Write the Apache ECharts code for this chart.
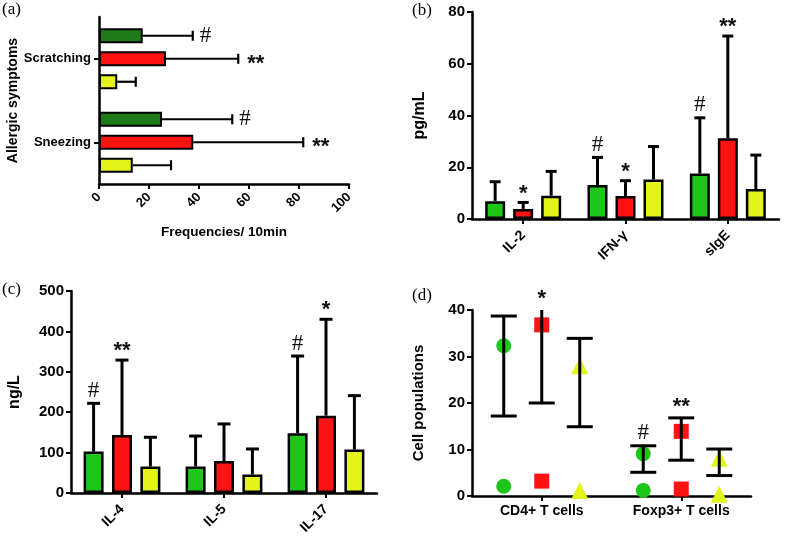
<!DOCTYPE html>
<html><head><meta charset="utf-8">
<script src="https://cdn.jsdelivr.net/npm/echarts@6/dist/echarts.min.js"></script>
<style>html,body{margin:0;padding:0;background:#fff}#c{width:787px;height:541px}</style>
</head><body><div id="c"></div>
<script>
// ---------- (a) allergic symptoms ----------
const symptomCats = ['Scratching', 'Sneezing'];
const symptomGreen = [17.5, 25.2];
const symptomGreenSD = [20.0, 28.1];
const symptomRed = [26.8, 37.7];
const symptomRedSD = [28.9, 44.0];
const symptomYellow = [7.3, 13.5];
const symptomYellowSD = [7.4, 15.3];
const symptomGreenMark = ['#', '#'];
const symptomRedMark = ['**', '**'];
const symptomYellowMark = ['', ''];
const freqTicks = [0, 20, 40, 60, 80, 100];

// ---------- (b) serum ----------
const serumCats = ['IL-2', 'IFN-γ', 'sIgE'];
const serumGreen = [6.9, 13.1, 17.6];
const serumGreenSD = [7.5, 10.7, 21.5];
const serumRed = [3.9, 8.9, 31.2];
const serumRedSD = [2.5, 5.9, 39.5];
const serumYellow = [9.0, 15.3, 11.6];
const serumYellowSD = [9.4, 12.7, 13.1];
const serumGreenMark = ['', '#', '#'];
const serumRedMark = ['*', '*', '**'];
const serumYellowMark = ['', '', ''];

// ---------- (c) cytokines ----------
const ilCats = ['IL-4', 'IL-5', 'IL-17'];
const ilGreen = [102.6, 65.7, 148.0];
const ilGreenSD = [119.4, 75.3, 191.0];
const ilRed = [143.8, 79.0, 191.5];
const ilRedSD = [185.2, 92.0, 238.5];
const ilYellow = [65.7, 46.0, 107.6];
const ilYellowSD = [72.3, 63.0, 133.4];
const ilGreenMark = ['#', '', '#'];
const ilRedMark = ['**', '', '*'];
const ilYellowMark = ['', '', ''];

// ---------- (d) cell populations ----------
const cellCats = ['CD4+ T cells', 'Foxp3+ T cells'];
const cellGreenMean = [32.3, 9.1];
const cellGreenLow = [2.1, 1.2];
const cellGreenErrLo = [17.2, 5.1];
const cellGreenErrHi = [38.7, 10.8];
const cellRedMean = [36.8, 13.9];
const cellRedLow = [3.2, 1.5];
const cellRedErrLo = [20.0, 7.7];
const cellRedErrHi = [44.0, 16.8];
const cellYellowMean = [28.0, 8.1];
const cellYellowLow = [1.2, 0.4];
const cellYellowErrLo = [14.9, 4.4];
const cellYellowErrHi = [33.9, 10.1];
const cellGreenMark = ['', '#'];
const cellRedMark = ['*', '**'];
const cellYellowMark = ['', ''];

// ---------- styles ----------
const DARKGREEN = '#1f7a1a', GREEN = '#1ec61a', RED = '#ff1212', YELLOW = '#e2f41a';
const SANS = '"Liberation Sans", Arial, sans-serif';
const SERIF = '"Liberation Serif", "Times New Roman", serif';

function isHash(t) { return t.indexOf('#') >= 0; }
function markFont(t) { return isHash(t) ? ('23px ' + SERIF) : ('bold 22px ' + SANS); }

function vErr(offset, cap, lw, marks) {
  return function (params, api) {
    const cat = api.value(0), mean = api.value(1), sd = api.value(2);
    const mark = marks[params.dataIndex];
    const p0 = api.coord([cat, mean]);
    const p1 = api.coord([cat, mean + sd]);
    const x = p0[0] + offset;
    const ch = [
      { type: 'line', shape: { x1: x, y1: p0[1], x2: x, y2: p1[1] }, style: { stroke: '#000', lineWidth: lw } },
      { type: 'line', shape: { x1: x - cap / 2, y1: p1[1], x2: x + cap / 2, y2: p1[1] }, style: { stroke: '#000', lineWidth: lw } }
    ];
    if (mark) ch.push({ type: 'text', style: { text: mark, x: x, y: p1[1] + (isHash(mark) ? -1 : 2), align: 'center', verticalAlign: 'bottom', font: markFont(mark), fill: '#111' } });
    return { type: 'group', children: ch };
  };
}
function hErr(offset, cap, lw, marks) {
  return function (params, api) {
    const cat = api.value(0), mean = api.value(1), sd = api.value(2);
    const mark = marks[params.dataIndex];
    const p0 = api.coord([mean, cat]);
    const p1 = api.coord([mean + sd, cat]);
    const y = p0[1] + offset;
    const ch = [
      { type: 'line', shape: { x1: p0[0], y1: y, x2: p1[0], y2: y }, style: { stroke: '#000', lineWidth: lw } },
      { type: 'line', shape: { x1: p1[0], y1: y - cap / 2, x2: p1[0], y2: y + cap / 2 }, style: { stroke: '#000', lineWidth: lw } }
    ];
    if (mark) ch.push({ type: 'text', style: { text: mark, x: p1[0] + (isHash(mark) ? 7 : 9), y: y + (isHash(mark) ? 0 : 5), align: 'left', verticalAlign: 'middle', font: markFont(mark), fill: '#111' } });
    return { type: 'group', children: ch };
  };
}
function rangeErr(offset, cap, lw, marks) {
  return function (params, api) {
    const cat = api.value(0), lo = api.value(1), hi = api.value(2);
    const mark = marks[params.dataIndex];
    const top = params.coordSys.y;
    const p0 = api.coord([cat, lo]);
    const p1 = api.coord([cat, hi]);
    const x = p0[0] + offset;
    const clipped = p1[1] < top;
    const yTop = clipped ? top : p1[1];
    const ch = [
      { type: 'line', shape: { x1: x, y1: p0[1], x2: x, y2: yTop }, style: { stroke: '#000', lineWidth: lw } },
      { type: 'line', shape: { x1: x - cap / 2, y1: p0[1], x2: x + cap / 2, y2: p0[1] }, style: { stroke: '#000', lineWidth: lw } }
    ];
    if (!clipped) ch.push({ type: 'line', shape: { x1: x - cap / 2, y1: yTop, x2: x + cap / 2, y2: yTop }, style: { stroke: '#000', lineWidth: lw } });
    if (mark) ch.push({ type: 'text', style: { text: mark, x: x, y: yTop + (isHash(mark) ? -1 : 0), align: 'center', verticalAlign: 'bottom', font: markFont(mark), fill: '#111' } });
    return { type: 'group', children: ch };
  };
}

const zip = (m, s) => m.map((v, i) => [i, v, s[i]]);
const pts = (a, b) => a.map((v, i) => [i, v]).concat(b.map((v, i) => [i, v]));

const axisLine = { show: true, lineStyle: { color: '#000', width: 2.5 } };
const axisTick = { show: true, length: 5, lineStyle: { color: '#000', width: 2 } };
const lab = (sz, extra) => Object.assign({ color: '#000', fontFamily: SANS, fontWeight: 'bold', fontSize: sz }, extra || {});
const nameStyle = (sz) => ({ color: '#000', fontFamily: SANS, fontWeight: 'bold', fontSize: sz });

const chart = echarts.init(document.getElementById('c'), null, { renderer: 'canvas' });
chart.setOption({
  animation: false,
  backgroundColor: '#fff',
  grid: [
    { left: 99, top: 17, width: 250, height: 167 },
    { left: 472, top: 12, width: 307, height: 207 },
    { left: 71, top: 291, width: 306, height: 202 },
    { left: 472, top: 310, width: 279, height: 186 }
  ],
  xAxis: [
    { gridIndex: 0, type: 'value', min: freqTicks[0], max: freqTicks[freqTicks.length - 1], interval: 20,
      axisLine, axisTick, splitLine: { show: false },
      axisLabel: lab(13, { rotate: 45, margin: 11 }),
      name: 'Frequencies/ 10min', nameLocation: 'middle', nameGap: 41, nameTextStyle: nameStyle(13.5) },
    { gridIndex: 1, type: 'category', data: serumCats, axisLine,
      axisTick: Object.assign({ alignWithLabel: true }, axisTick), axisLabel: lab(14, { rotate: 45, margin: 14 }) },
    { gridIndex: 2, type: 'category', data: ilCats, axisLine,
      axisTick: Object.assign({ alignWithLabel: true }, axisTick), axisLabel: lab(14, { rotate: 45, margin: 14 }) },
    { gridIndex: 3, type: 'category', data: cellCats, axisLine,
      axisTick: Object.assign({ alignWithLabel: true }, axisTick), axisLabel: lab(14, { margin: 8 }) }
  ],
  yAxis: [
    { gridIndex: 0, type: 'category', data: symptomCats, inverse: true, axisLine,
      axisTick: Object.assign({ alignWithLabel: true }, axisTick), axisLabel: lab(13, { margin: 8 }),
      name: 'Allergic symptoms', nameLocation: 'middle', nameGap: 77, nameTextStyle: nameStyle(14) },
    { gridIndex: 1, type: 'value', min: 0, max: 80, interval: 20, axisLine, axisTick,
      splitLine: { show: false }, axisLabel: lab(15, { margin: 7 }),
      name: 'pg/mL', nameLocation: 'middle', nameGap: 44, nameTextStyle: nameStyle(16) },
    { gridIndex: 2, type: 'value', min: 0, max: 500, interval: 100, axisLine, axisTick,
      splitLine: { show: false }, axisLabel: lab(15, { margin: 7 }),
      name: 'ng/L', nameLocation: 'middle', nameGap: 48, nameTextStyle: nameStyle(16) },
    { gridIndex: 3, type: 'value', min: 0, max: 40, interval: 10, axisLine, axisTick,
      splitLine: { show: false }, axisLabel: lab(15, { margin: 7 }),
      name: 'Cell populations', nameLocation: 'middle', nameGap: 46, nameTextStyle: nameStyle(15) }
  ],
  graphic: [
    { type: 'text', left: 2, top: 1, style: { text: '(a)', font: '17px ' + SERIF, fill: '#000' } },
    { type: 'text', left: 412, top: 2, style: { text: '(b)', font: '17px ' + SERIF, fill: '#000' } },
    { type: 'text', left: 2, top: 281, style: { text: '(c)', font: '17px ' + SERIF, fill: '#000' } },
    { type: 'text', left: 412, top: 287, style: { text: '(d)', font: '17px ' + SERIF, fill: '#000' } }
  ],
  series: [
    // (a)
    { type: 'bar', xAxisIndex: 0, yAxisIndex: 0, data: symptomGreen, barWidth: 15, barGap: '53%',
      itemStyle: { color: DARKGREEN, borderColor: '#000', borderWidth: 2 } },
    { type: 'bar', xAxisIndex: 0, yAxisIndex: 0, data: symptomRed, barWidth: 15, barGap: '53%',
      itemStyle: { color: RED, borderColor: '#000', borderWidth: 2 } },
    { type: 'bar', xAxisIndex: 0, yAxisIndex: 0, data: symptomYellow, barWidth: 15, barGap: '53%',
      itemStyle: { color: YELLOW, borderColor: '#000', borderWidth: 2 } },
    { type: 'custom', xAxisIndex: 0, yAxisIndex: 0, renderItem: hErr(-23, 10, 2.2, symptomGreenMark), data: zip(symptomGreen, symptomGreenSD), z: 5, clip: false },
    { type: 'custom', xAxisIndex: 0, yAxisIndex: 0, renderItem: hErr(0, 10, 2.2, symptomRedMark), data: zip(symptomRed, symptomRedSD), z: 5, clip: false },
    { type: 'custom', xAxisIndex: 0, yAxisIndex: 0, renderItem: hErr(23, 10, 2.2, symptomYellowMark), data: zip(symptomYellow, symptomYellowSD), z: 5, clip: false },
    // (b)
    { type: 'bar', xAxisIndex: 1, yAxisIndex: 1, data: serumGreen, barWidth: 20, barGap: '40%',
      itemStyle: { color: GREEN, borderColor: '#000', borderWidth: 2.5 } },
    { type: 'bar', xAxisIndex: 1, yAxisIndex: 1, data: serumRed, barWidth: 20, barGap: '40%',
      itemStyle: { color: RED, borderColor: '#000', borderWidth: 2.5 } },
    { type: 'bar', xAxisIndex: 1, yAxisIndex: 1, data: serumYellow, barWidth: 20, barGap: '40%',
      itemStyle: { color: YELLOW, borderColor: '#000', borderWidth: 2.5 } },
    { type: 'custom', xAxisIndex: 1, yAxisIndex: 1, renderItem: vErr(-28, 11, 3, serumGreenMark), data: zip(serumGreen, serumGreenSD), z: 5, clip: false },
    { type: 'custom', xAxisIndex: 1, yAxisIndex: 1, renderItem: vErr(0, 11, 3, serumRedMark), data: zip(serumRed, serumRedSD), z: 5, clip: false },
    { type: 'custom', xAxisIndex: 1, yAxisIndex: 1, renderItem: vErr(28, 11, 3, serumYellowMark), data: zip(serumYellow, serumYellowSD), z: 5, clip: false },
    // (c)
    { type: 'bar', xAxisIndex: 2, yAxisIndex: 2, data: ilGreen, barWidth: 20, barGap: '42%',
      itemStyle: { color: GREEN, borderColor: '#000', borderWidth: 2.5 } },
    { type: 'bar', xAxisIndex: 2, yAxisIndex: 2, data: ilRed, barWidth: 20, barGap: '42%',
      itemStyle: { color: RED, borderColor: '#000', borderWidth: 2.5 } },
    { type: 'bar', xAxisIndex: 2, yAxisIndex: 2, data: ilYellow, barWidth: 20, barGap: '42%',
      itemStyle: { color: YELLOW, borderColor: '#000', borderWidth: 2.5 } },
    { type: 'custom', xAxisIndex: 2, yAxisIndex: 2, renderItem: vErr(-28.4, 13, 3, ilGreenMark), data: zip(ilGreen, ilGreenSD), z: 5, clip: false },
    { type: 'custom', xAxisIndex: 2, yAxisIndex: 2, renderItem: vErr(0, 13, 3, ilRedMark), data: zip(ilRed, ilRedSD), z: 5, clip: false },
    { type: 'custom', xAxisIndex: 2, yAxisIndex: 2, renderItem: vErr(28.4, 13, 3, ilYellowMark), data: zip(ilYellow, ilYellowSD), z: 5, clip: false },
    // (d)
    { type: 'scatter', xAxisIndex: 3, yAxisIndex: 3, data: pts(cellGreenMean, cellGreenLow), symbol: 'circle', symbolSize: 15,
      symbolOffset: [-38, 0], itemStyle: { color: GREEN, opacity: 1 } },
    { type: 'scatter', xAxisIndex: 3, yAxisIndex: 3, data: pts(cellRedMean, cellRedLow), symbol: 'rect', symbolSize: 15,
      symbolOffset: [0, 0], itemStyle: { color: RED, opacity: 1 } },
    { type: 'scatter', xAxisIndex: 3, yAxisIndex: 3, data: pts(cellYellowMean, cellYellowLow), symbol: 'triangle', symbolSize: 17,
      symbolOffset: [38, 0], itemStyle: { color: YELLOW, opacity: 1 } },
    { type: 'custom', xAxisIndex: 3, yAxisIndex: 3, renderItem: rangeErr(-38, 26, 3, cellGreenMark), clip: false,
      data: cellGreenErrLo.map((v, i) => [i, v, cellGreenErrHi[i]]), z: 5 },
    { type: 'custom', xAxisIndex: 3, yAxisIndex: 3, renderItem: rangeErr(0, 26, 3, cellRedMark), clip: false,
      data: cellRedErrLo.map((v, i) => [i, v, cellRedErrHi[i]]), z: 5 },
    { type: 'custom', xAxisIndex: 3, yAxisIndex: 3, renderItem: rangeErr(38, 26, 3, cellYellowMark), clip: false,
      data: cellYellowErrLo.map((v, i) => [i, v, cellYellowErrHi[i]]), z: 5 }
  ]
});
</script>
</body></html>
